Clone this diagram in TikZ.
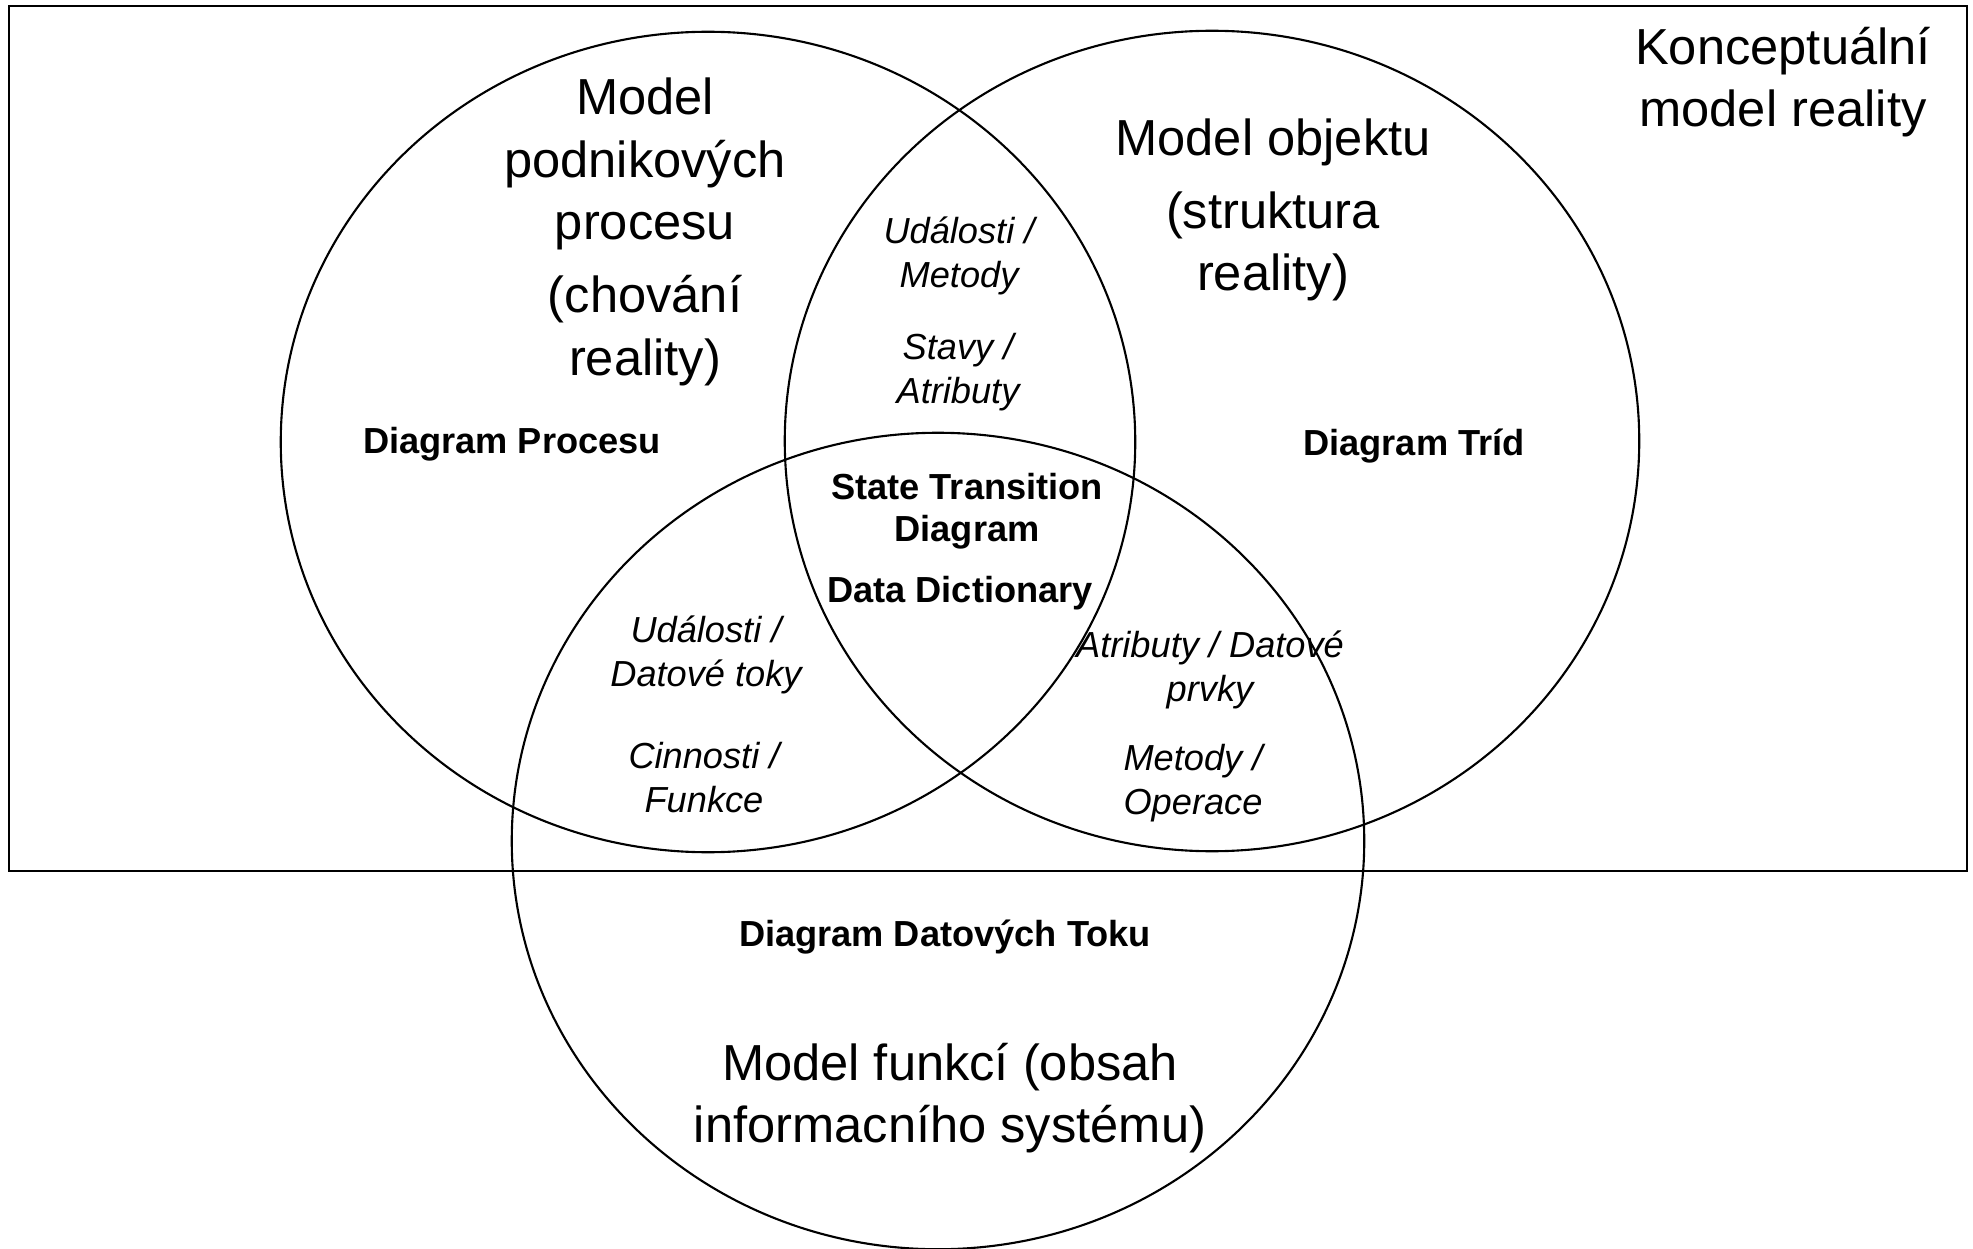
\documentclass[tikz,border=0pt]{standalone}
\usepackage{fontspec}
\setmainfont{Liberation Sans}

\begin{document}
\begin{tikzpicture}[x=0.01cm, y=-0.01cm,
    bigtext/.style={align=center, font=\fontsize{14.4}{17.8}\selectfont},
    boldtext/.style={align=center, font=\fontsize{10.3}{11.8}\selectfont\bfseries},
    itext/.style={align=center, font=\fontsize{10.3}{12.5}\selectfont\itshape}]
      \useasboundingbox (0,0) rectangle (1973,1249);
      \def\procset{(708,442) ellipse [x radius=4.27cm, y radius=4.10cm]}
      \def\objset{(1212,441) ellipse [x radius=4.27cm, y radius=4.10cm]}
      \def\funcset{(938,841) ellipse [x radius=4.26cm, y radius=4.08cm]}

      % frame of the conceptual model
      \draw[line width=0.8pt] (9,6) rectangle (1967,871);

      \draw[line width=0.6pt] \procset;
      \draw[line width=0.6pt] \objset;
      \draw[line width=0.6pt] \funcset;

      \node[bigtext] (reality) at (1783,82) {Konceptuální\\model reality};
      \node[bigtext] (procmodel) at (645,232)
        {Model\\podnikových\\procesu\\[3pt](chování\\reality)};
      \node[bigtext] (objmodel) at (1273,210)
        {Model objektu\\[2.9pt](struktura\\reality)};
      \node[bigtext] (funcmodel) at (950,1098)
        {Model funkcí (obsah\\informacního systému)};

      \node[boldtext] (procdiag) at (512,444) {Diagram Procesu};
      \node[boldtext] (classdiag) at (1414,446) {Diagram Tríd};
      \node[boldtext] (stdiag) at (967,511) {State Transition\\Diagram};
      \node[boldtext] (datadict) at (960,593) {Data Dictionary};
      \node[boldtext] (dfdiag) at (945,937) {Diagram Datových Toku};

      \node[itext] (evmeth) at (959,256) {Události /\\Metody};
      \node[itext] (statattr) at (958,372) {Stavy /\\Atributy};
      \node[itext] (evflow) at (706,655) {Události /\\Datové toky};
      \node[itext] (actfunc) at (704,778) {Cinnosti /\\Funkce};
      \node[itext] (attrelem) at (1210,670) {Atributy / Datové\\prvky};
      \node[itext] (methop) at (1193,783) {Metody /\\Operace};
    \end{tikzpicture}
\end{document}
